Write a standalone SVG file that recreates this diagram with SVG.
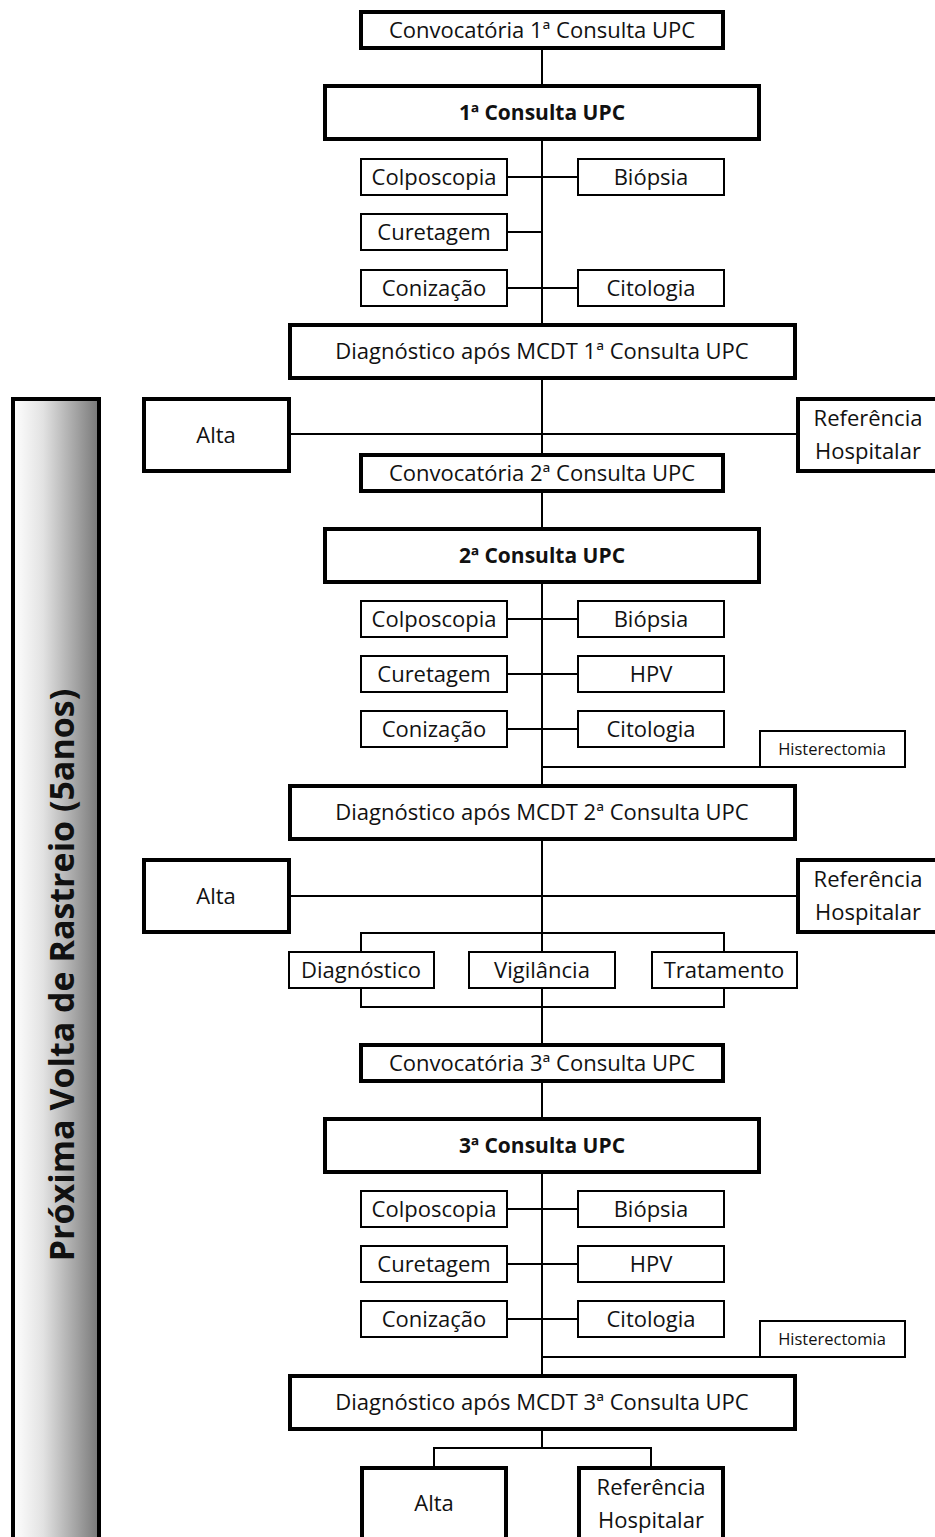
<svg xmlns="http://www.w3.org/2000/svg" width="935" height="1537" viewBox="0 0 935 1537">
<defs>
<linearGradient id="barg" x1="0" y1="0" x2="1" y2="0">
<stop offset="0" stop-color="#ffffff"/>
<stop offset="0.35" stop-color="#e2e2e2"/>
<stop offset="1" stop-color="#787878"/>
</linearGradient>
</defs>
<style>
.thick{fill:#fff;stroke:#000;stroke-width:4}
.thin{fill:#fff;stroke:#000;stroke-width:2}
.ln{fill:none;stroke:#000;stroke-width:2}
text{font-family:"Open Sans","Liberation Sans",sans-serif;font-size:22px;fill:#111;text-anchor:middle}
.b{font-weight:bold;font-size:21px}
.s{font-size:16.5px}
</style>
<rect width="935" height="1537" fill="#fff"/>
<g id="connectors">
<path class="ln" d="M542 48V1448"/>
<path class="ln" d="M507 177H578M507 232H542M507 288H578"/>
<path class="ln" d="M290 434H797"/>
<path class="ln" d="M507 619H578M507 674H578M507 729H578M542 767H905"/>
<path class="ln" d="M290 896H797"/>
<path class="ln" d="M361 952V933H724V952M361 988V1007H724V988"/>
<path class="ln" d="M507 1209H578M507 1264H578M507 1319H578M542 1357H905"/>
<path class="ln" d="M434 1467V1448H651V1467"/>
</g>
<g id="bar"><rect x="13" y="399" width="86" height="1150" fill="url(#barg)" stroke="#000" stroke-width="4"/>
<text class="b" transform="translate(74 975) rotate(-90)" style="font-size:34px">Próxima Volta de Rastreio (5anos)</text></g>
<g id="conv1"><rect class="thick" x="361" y="12" width="362" height="36"/><text x="542" y="38">Convocatória 1ª Consulta UPC</text></g>
<g id="cons1"><rect class="thick" x="325" y="86" width="434" height="53"/><text class="b" x="542" y="120">1ª Consulta UPC</text></g>
<g id="colp1"><rect class="thin" x="361" y="159" width="146" height="36"/><text x="434" y="185">Colposcopia</text></g>
<g id="biop1"><rect class="thin" x="578" y="159" width="146" height="36"/><text x="651" y="185">Biópsia</text></g>
<g id="cure1"><rect class="thin" x="361" y="214" width="146" height="36"/><text x="434" y="240">Curetagem</text></g>
<g id="coni1"><rect class="thin" x="361" y="270" width="146" height="36"/><text x="434" y="296">Conização</text></g>
<g id="cito1"><rect class="thin" x="578" y="270" width="146" height="36"/><text x="651" y="296">Citologia</text></g>
<g id="diag1"><rect class="thick" x="290" y="325" width="505" height="53"/><text x="542" y="359">Diagnóstico após MCDT 1ª Consulta UPC</text></g>
<g id="alta1"><rect class="thick" x="144" y="399" width="145" height="72"/><text x="216" y="443">Alta</text></g>
<g id="ref1"><rect class="thick" x="798" y="399" width="150" height="72"/><text x="868" y="426">Referência</text><text x="868" y="459">Hospitalar</text></g>
<g id="conv2"><rect class="thick" x="361" y="455" width="362" height="36"/><text x="542" y="481">Convocatória 2ª Consulta UPC</text></g>
<g id="cons2"><rect class="thick" x="325" y="529" width="434" height="53"/><text class="b" x="542" y="563">2ª Consulta UPC</text></g>
<g id="colp2"><rect class="thin" x="361" y="601" width="146" height="36"/><text x="434" y="627">Colposcopia</text></g>
<g id="biop2"><rect class="thin" x="578" y="601" width="146" height="36"/><text x="651" y="627">Biópsia</text></g>
<g id="cure2"><rect class="thin" x="361" y="656" width="146" height="36"/><text x="434" y="682">Curetagem</text></g>
<g id="hpv2"><rect class="thin" x="578" y="656" width="146" height="36"/><text x="651" y="682">HPV</text></g>
<g id="coni2"><rect class="thin" x="361" y="711" width="146" height="36"/><text x="434" y="737">Conização</text></g>
<g id="cito2"><rect class="thin" x="578" y="711" width="146" height="36"/><text x="651" y="737">Citologia</text></g>
<g id="hist2"><rect class="thin" x="760" y="731" width="145" height="36"/><text class="s" x="832" y="755">Histerectomia</text></g>
<g id="diag2"><rect class="thick" x="290" y="786" width="505" height="53"/><text x="542" y="820">Diagnóstico após MCDT 2ª Consulta UPC</text></g>
<g id="alta2"><rect class="thick" x="144" y="860" width="145" height="72"/><text x="216" y="904">Alta</text></g>
<g id="ref2"><rect class="thick" x="798" y="860" width="150" height="72"/><text x="868" y="887">Referência</text><text x="868" y="920">Hospitalar</text></g>
<g id="diagn"><rect class="thin" x="289" y="952" width="145" height="36"/><text x="361" y="978">Diagnóstico</text></g>
<g id="vigi"><rect class="thin" x="469" y="952" width="146" height="36"/><text x="542" y="978">Vigilância</text></g>
<g id="trat"><rect class="thin" x="652" y="952" width="145" height="36"/><text x="724" y="978">Tratamento</text></g>
<g id="conv3"><rect class="thick" x="361" y="1045" width="362" height="36"/><text x="542" y="1071">Convocatória 3ª Consulta UPC</text></g>
<g id="cons3"><rect class="thick" x="325" y="1119" width="434" height="53"/><text class="b" x="542" y="1153">3ª Consulta UPC</text></g>
<g id="colp3"><rect class="thin" x="361" y="1191" width="146" height="36"/><text x="434" y="1217">Colposcopia</text></g>
<g id="biop3"><rect class="thin" x="578" y="1191" width="146" height="36"/><text x="651" y="1217">Biópsia</text></g>
<g id="cure3"><rect class="thin" x="361" y="1246" width="146" height="36"/><text x="434" y="1272">Curetagem</text></g>
<g id="hpv3"><rect class="thin" x="578" y="1246" width="146" height="36"/><text x="651" y="1272">HPV</text></g>
<g id="coni3"><rect class="thin" x="361" y="1301" width="146" height="36"/><text x="434" y="1327">Conização</text></g>
<g id="cito3"><rect class="thin" x="578" y="1301" width="146" height="36"/><text x="651" y="1327">Citologia</text></g>
<g id="hist3"><rect class="thin" x="760" y="1321" width="145" height="36"/><text class="s" x="832" y="1345">Histerectomia</text></g>
<g id="diag3"><rect class="thick" x="290" y="1376" width="505" height="53"/><text x="542" y="1410">Diagnóstico após MCDT 3ª Consulta UPC</text></g>
<g id="alta3"><rect class="thick" x="362" y="1468" width="144" height="90"/><text x="434" y="1511">Alta</text></g>
<g id="ref3"><rect class="thick" x="579" y="1468" width="144" height="90"/><text x="651" y="1495">Referência</text><text x="651" y="1528">Hospitalar</text></g>
</svg>
